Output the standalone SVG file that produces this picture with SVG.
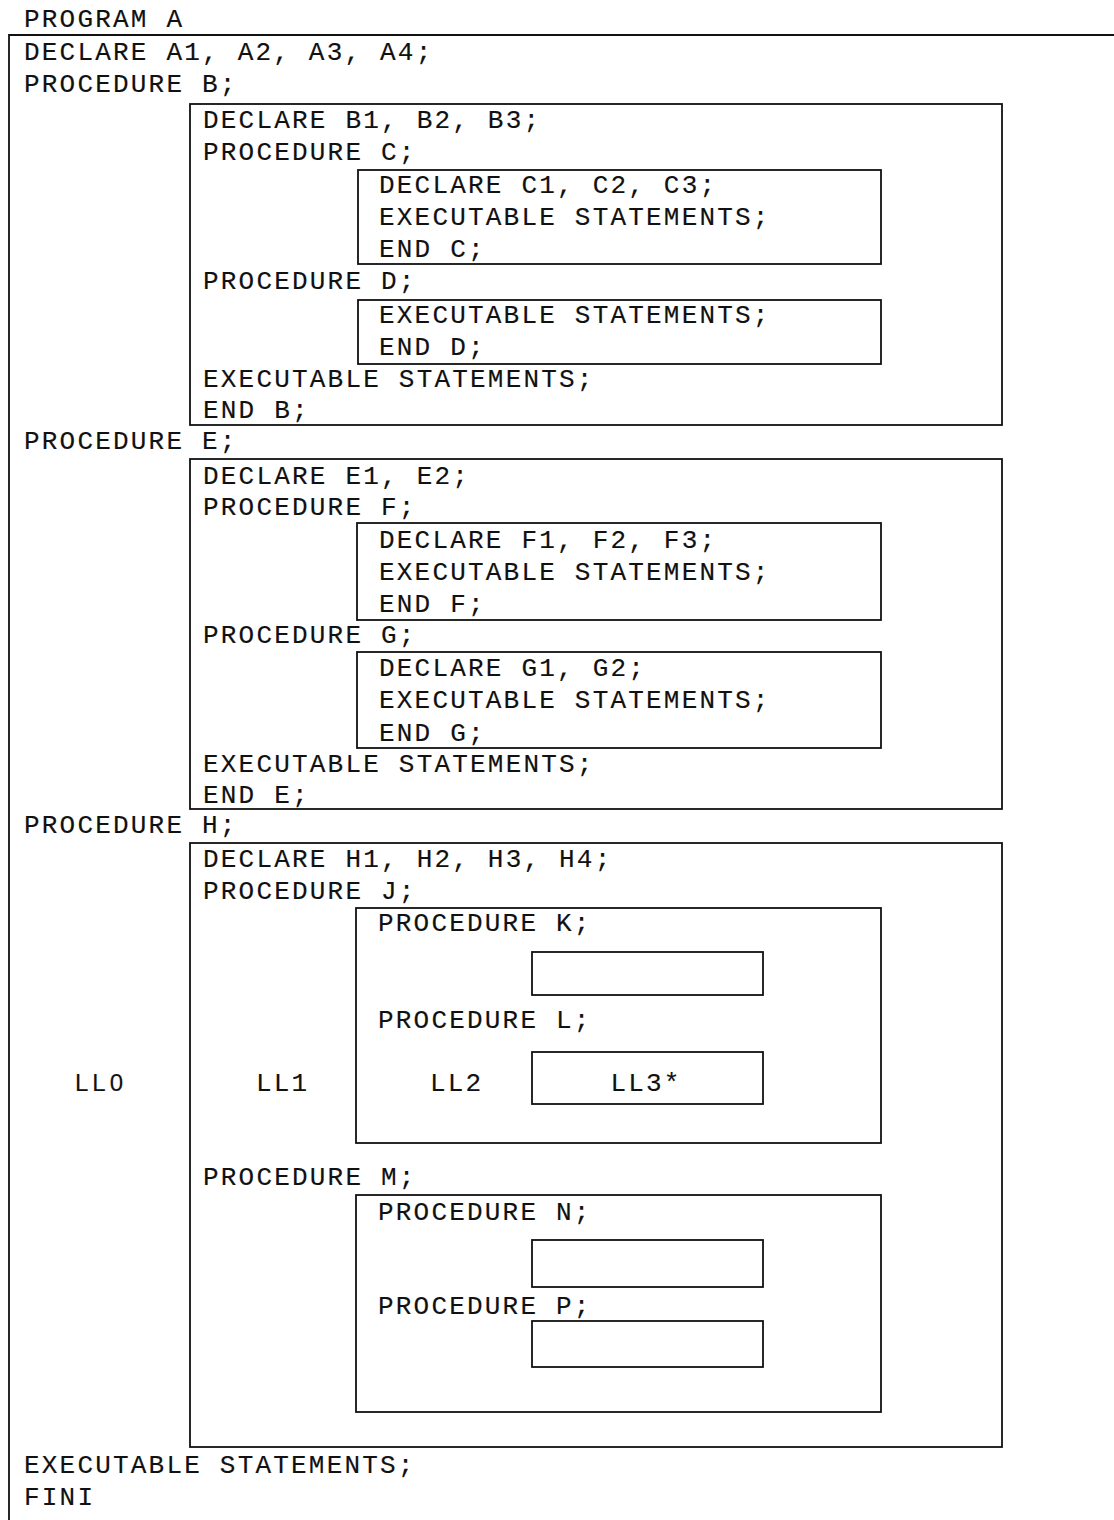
<svg xmlns="http://www.w3.org/2000/svg" width="1114" height="1520" viewBox="0 0 1114 1520">
  <style>
    .box { fill: none; stroke: #111; stroke-width: 1.8; }
    text { font-family: "Liberation Mono", "DejaVu Sans Mono", monospace; font-size: 26px; letter-spacing: 2.2px; fill: #111; stroke: #111; stroke-width: 0.15; }
    .plain { font-family: "Liberation Sans", Arial, sans-serif; font-size: 24px; letter-spacing: 4px; }
    .mid { text-anchor: middle; }
  </style>
  <rect x="0" y="0" width="1114" height="1520" fill="#fff"/>

  <!-- Program A: outermost block, open to the right and bottom -->
  <g id="program-a">
    <text x="24" y="27">PROGRAM A</text>
    <path class="box" d="M1114,35 H9 V1520"/>
    <text x="24" y="60">DECLARE A1, A2, A3, A4;</text>
    <text x="24" y="92">PROCEDURE B;</text>
    <text x="24" y="449">PROCEDURE E;</text>
    <text x="24" y="833">PROCEDURE H;</text>
    <text class="plain" x="75" y="1091">LL0</text>
    <text x="24" y="1473">EXECUTABLE STATEMENTS;</text>
    <text x="24" y="1505">FINI</text>
  </g>

  <!-- Procedure B and its nested procedures -->
  <g id="proc-b">
    <rect class="box" x="190" y="104" width="812" height="321"/>
    <text x="203" y="128">DECLARE B1, B2, B3;</text>
    <text x="203" y="160">PROCEDURE C;</text>
    <text x="203" y="289">PROCEDURE D;</text>
    <text x="203" y="387">EXECUTABLE STATEMENTS;</text>
    <text x="203" y="418">END B;</text>
  </g>
  <g id="proc-c">
    <rect class="box" x="358" y="170" width="523" height="94"/>
    <text x="379" y="193">DECLARE C1, C2, C3;</text>
    <text x="379" y="225">EXECUTABLE STATEMENTS;</text>
    <text x="379" y="257">END C;</text>
  </g>
  <g id="proc-d">
    <rect class="box" x="358" y="300" width="523" height="64"/>
    <text x="379" y="323">EXECUTABLE STATEMENTS;</text>
    <text x="379" y="355">END D;</text>
  </g>

  <!-- Procedure E and its nested procedures -->
  <g id="proc-e">
    <rect class="box" x="190" y="459" width="812" height="350"/>
    <text x="203" y="484">DECLARE E1, E2;</text>
    <text x="203" y="515">PROCEDURE F;</text>
    <text x="203" y="643">PROCEDURE G;</text>
    <text x="203" y="772">EXECUTABLE STATEMENTS;</text>
    <text x="203" y="803">END E;</text>
  </g>
  <g id="proc-f">
    <rect class="box" x="357" y="523" width="524" height="97"/>
    <text x="379" y="548">DECLARE F1, F2, F3;</text>
    <text x="379" y="580">EXECUTABLE STATEMENTS;</text>
    <text x="379" y="612">END F;</text>
  </g>
  <g id="proc-g">
    <rect class="box" x="357" y="652" width="524" height="96"/>
    <text x="379" y="676">DECLARE G1, G2;</text>
    <text x="379" y="708">EXECUTABLE STATEMENTS;</text>
    <text x="379" y="741">END G;</text>
  </g>

  <!-- Procedure H with the deeper lexical levels -->
  <g id="proc-h">
    <rect class="box" x="190" y="843" width="812" height="604"/>
    <text x="203" y="867">DECLARE H1, H2, H3, H4;</text>
    <text x="203" y="899">PROCEDURE J;</text>
    <text x="256" y="1091">LL1</text>
    <text x="203" y="1185">PROCEDURE M;</text>
  </g>
  <g id="proc-j">
    <rect class="box" x="356" y="908" width="525" height="235"/>
    <text x="378" y="931">PROCEDURE K;</text>
    <text x="378" y="1028">PROCEDURE L;</text>
    <text x="430" y="1091">LL2</text>
  </g>
  <g id="proc-k">
    <rect class="box" x="532" y="952" width="231" height="43"/>
  </g>
  <g id="proc-l">
    <rect class="box" x="532" y="1052" width="231" height="52"/>
    <text class="mid" x="646" y="1091">LL3*</text>
  </g>
  <g id="proc-m">
    <rect class="box" x="356" y="1195" width="525" height="217"/>
    <text x="378" y="1220">PROCEDURE N;</text>
    <text x="378" y="1314">PROCEDURE P;</text>
  </g>
  <g id="proc-n">
    <rect class="box" x="532" y="1240" width="231" height="47"/>
  </g>
  <g id="proc-p">
    <rect class="box" x="532" y="1321" width="231" height="46"/>
  </g>
</svg>
